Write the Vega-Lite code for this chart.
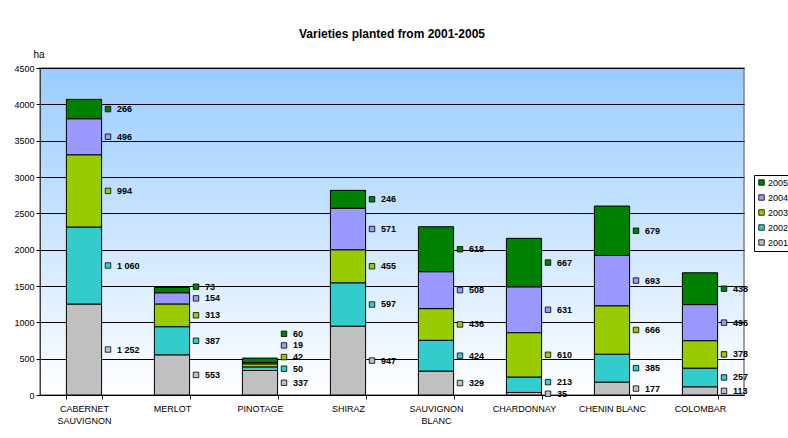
{
  "$schema": "https://vega.github.io/schema/vega-lite/v6.json",
  "width": 704,
  "height": 327,
  "autosize": {"type": "none"},
  "padding": {"left": 40, "top": 68, "right": 44, "bottom": 43},
  "background": "white",
  "title": {"text": "Varieties planted from 2001-2005", "fontSize": 12, "font": "Liberation Sans", "fontWeight": "bold", "color": "black", "frame": "group", "offset": 8, "anchor": "middle"},
  "config": {
    "locale": {"number": {"decimal": ".", "thousands": " ", "grouping": [3], "currency": ["", ""]}},
    "font": "Liberation Sans",
    "view": {"stroke": "#808080", "strokeWidth": 1.5, "fill": {"gradient": "linear", "x1": 0, "y1": 0, "x2": 0, "y2": 1, "stops": [{"offset": 0, "color": "#99CCFF"}, {"offset": 1, "color": "#FFFFFF"}]}},
    "axisY": {"title": "ha", "titleAngle": 0, "titleAlign": "left", "titleBaseline": "alphabetic", "titleX": -7, "titleY": -11, "titleFontSize": 10, "titleFontWeight": "normal", "titleColor": "black",
      "values": [0, 500, 1000, 1500, 2000, 2500, 3000, 3500, 4000, 4500], "tickCount": 10, "labelOverlap": false, "format": "d", "labelFontSize": 9, "labelColor": "black", "tickSize": 4, "tickColor": "black", "domainColor": "#404040", "gridColor": "black", "gridOpacity": 1, "gridWidth": 1, "labelPadding": 2}
  },
  "data": {"values": [
    {"variety": "CABERNET SAUVIGNON", "year": "2001", "value": 1252},
    {"variety": "CABERNET SAUVIGNON", "year": "2002", "value": 1060},
    {"variety": "CABERNET SAUVIGNON", "year": "2003", "value": 994},
    {"variety": "CABERNET SAUVIGNON", "year": "2004", "value": 496},
    {"variety": "CABERNET SAUVIGNON", "year": "2005", "value": 266},
    {"variety": "MERLOT", "year": "2001", "value": 553},
    {"variety": "MERLOT", "year": "2002", "value": 387},
    {"variety": "MERLOT", "year": "2003", "value": 313},
    {"variety": "MERLOT", "year": "2004", "value": 154},
    {"variety": "MERLOT", "year": "2005", "value": 73},
    {"variety": "PINOTAGE", "year": "2001", "value": 337},
    {"variety": "PINOTAGE", "year": "2002", "value": 50},
    {"variety": "PINOTAGE", "year": "2003", "value": 42},
    {"variety": "PINOTAGE", "year": "2004", "value": 19},
    {"variety": "PINOTAGE", "year": "2005", "value": 60},
    {"variety": "SHIRAZ", "year": "2001", "value": 947},
    {"variety": "SHIRAZ", "year": "2002", "value": 597},
    {"variety": "SHIRAZ", "year": "2003", "value": 455},
    {"variety": "SHIRAZ", "year": "2004", "value": 571},
    {"variety": "SHIRAZ", "year": "2005", "value": 246},
    {"variety": "SAUVIGNON BLANC", "year": "2001", "value": 329},
    {"variety": "SAUVIGNON BLANC", "year": "2002", "value": 424},
    {"variety": "SAUVIGNON BLANC", "year": "2003", "value": 436},
    {"variety": "SAUVIGNON BLANC", "year": "2004", "value": 508},
    {"variety": "SAUVIGNON BLANC", "year": "2005", "value": 618},
    {"variety": "CHARDONNAY", "year": "2001", "value": 35},
    {"variety": "CHARDONNAY", "year": "2002", "value": 213},
    {"variety": "CHARDONNAY", "year": "2003", "value": 610},
    {"variety": "CHARDONNAY", "year": "2004", "value": 631},
    {"variety": "CHARDONNAY", "year": "2005", "value": 667},
    {"variety": "CHENIN BLANC", "year": "2001", "value": 177},
    {"variety": "CHENIN BLANC", "year": "2002", "value": 385},
    {"variety": "CHENIN BLANC", "year": "2003", "value": 666},
    {"variety": "CHENIN BLANC", "year": "2004", "value": 693},
    {"variety": "CHENIN BLANC", "year": "2005", "value": 679},
    {"variety": "COLOMBAR", "year": "2001", "value": 113},
    {"variety": "COLOMBAR", "year": "2002", "value": 257},
    {"variety": "COLOMBAR", "year": "2003", "value": 378},
    {"variety": "COLOMBAR", "year": "2004", "value": 496},
    {"variety": "COLOMBAR", "year": "2005", "value": 438}
  ]},
  "layer": [
    {
      "mark": {"type": "bar", "stroke": "black", "strokeWidth": 1},
      "encoding": {
        "x": {"field": "variety", "type": "nominal", "sort": null,
          "scale": {"paddingInner": 0.6, "paddingOuter": 0.3},
          "axis": {"title": null, "labelAngle": 0, "tickBand": "extent", "tickSize": 4, "tickColor": "black", "domainColor": "black", "labelFontSize": 9, "labelColor": "black", "labelPadding": 5, "labelLineHeight": 12, "grid": false,
            "labelExpr": "datum.label == 'CABERNET SAUVIGNON' ? ['CABERNET', 'SAUVIGNON'] : datum.label == 'SAUVIGNON BLANC' ? ['SAUVIGNON', 'BLANC'] : datum.label"}},
        "y": {"field": "value", "type": "quantitative", "stack": "zero", "title": "ha",
          "scale": {"domain": [0, 4500]},
          "axis": {"values": [0, 500, 1000, 1500, 2000, 2500, 3000, 3500, 4000, 4500]}},
        "color": {"field": "year", "type": "nominal",
          "scale": {"domain": ["2005", "2004", "2003", "2002", "2001"], "range": ["#008000", "#9999FF", "#99CC00", "#33CCCC", "#C0C0C0"]},
          "legend": {"title": null, "orient": "none", "legendX": 714, "legendY": 107, "symbolType": "square", "symbolSize": 30, "symbolStrokeColor": "black", "symbolStrokeWidth": 0.8, "labelFontSize": 9, "labelColor": "black", "strokeColor": "black", "fillColor": "white", "padding": 3, "rowPadding": 5, "labelOffset": 2}},
        "order": {"field": "year", "type": "ordinal", "sort": "ascending"}
      }
    },
    {
      "transform": [
        {"stack": "value", "groupby": ["variety"], "sort": [{"field": "year", "order": "ascending"}], "as": ["y0", "y1"]},
        {"calculate": "(datum.y0 + datum.y1) / 2", "as": "mid"},
        {"window": [{"op": "row_number", "as": "idx"}], "groupby": ["variety"], "sort": [{"field": "mid", "order": "ascending"}]},
        {"calculate": "datum.mid - datum.idx * 160", "as": "z"},
        {"window": [{"op": "max", "field": "z", "as": "zmax"}], "groupby": ["variety"], "sort": [{"field": "mid", "order": "ascending"}], "frame": [null, 0]},
        {"calculate": "datum.zmax + datum.idx * 160", "as": "ly"}
      ],
      "layer": [
        {
          "mark": {"type": "point", "shape": "square", "filled": true, "size": 30, "stroke": "black", "strokeWidth": 0.8, "xOffset": 24, "opacity": 1},
          "encoding": {
            "x": {"field": "variety", "type": "nominal", "sort": null},
            "y": {"field": "ly", "type": "quantitative", "title": "ha", "axis": {"values": [0, 500, 1000, 1500, 2000, 2500, 3000, 3500, 4000, 4500]}},
            "color": {"field": "year", "type": "nominal"}
          }
        },
        {
          "mark": {"type": "text", "align": "left", "baseline": "middle", "xOffset": 33, "fontWeight": "bold", "fontSize": 9, "color": "black"},
          "encoding": {
            "x": {"field": "variety", "type": "nominal", "sort": null},
            "y": {"field": "ly", "type": "quantitative", "title": "ha", "axis": {"values": [0, 500, 1000, 1500, 2000, 2500, 3000, 3500, 4000, 4500]}},
            "text": {"field": "value", "type": "quantitative", "format": ",d"}
          }
        }
      ]
    }
  ]
}
